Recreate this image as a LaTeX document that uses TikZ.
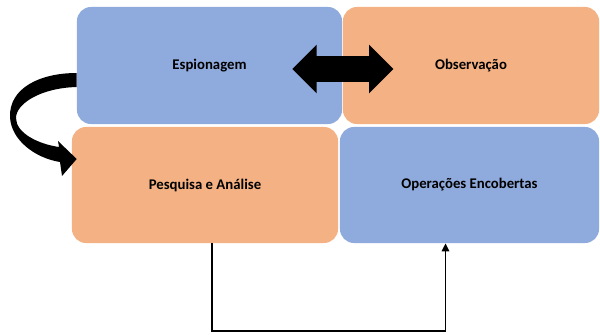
\documentclass[tikz,border=0pt]{standalone}
\usepackage{fontspec}
\setmainfont{Carlito}
\usetikzlibrary{arrows.meta,positioning,calc,shapes.arrows}
\definecolor{BoxBlue}{HTML}{8FAADC}
\definecolor{BoxOrange}{HTML}{F4B183}

\begin{document}
\begin{tikzpicture}[x=0.025cm,y=-0.025cm,
    box/.style={rectangle,rounded corners=3.5mm,inner sep=0pt,align=center,font=\fontsize{10.5}{12}\selectfont\bfseries},
    arrow/.style={-{Triangle[length=2mm,width=1.8mm]},line width=1.4pt,draw=black}
]
\useasboundingbox (0,0) rectangle (600,335);
% four blocks
\node[box,fill=BoxBlue,minimum width=6.625cm,minimum height=2.925cm] (espionagem) at (209.5,65.5) {Espionagem};
\node[box,fill=BoxOrange,minimum width=6.4cm,minimum height=2.925cm] (observacao) at (471,65.5) {Observação};
\node[box,fill=BoxOrange,minimum width=6.65cm,minimum height=2.9cm] (pesquisa) at (205,185) {Pesquisa e Análise};
\node[box,fill=BoxBlue,minimum width=6.475cm,minimum height=2.9cm] (operacoes) at (469.5,185) {Operações Encobertas};
% double arrow between the top blocks
\node[double arrow,fill=black,inner xsep=0pt,inner ysep=0.3125cm,minimum height=2.525cm,double arrow head extend=0.2875cm] (troca) at ($(espionagem.east)+(0.5,3.5)$) {};
% curved arrow on the left
\coordinate (cs) at ($(espionagem.west)+(0,7.5)$);
\coordinate (ce) at ($(pesquisa.west)+(5,-26)$);
\fill[black] (cs) .. controls (40,73) and (9,88) .. (10,117)
  .. controls (11,140) and (35,158) .. (60,162)
  -- (62,176) -- (ce) -- (58,141) -- (59,147)
  .. controls (38,144) and (16,133) .. (16,118)
  .. controls (16,104) and (40,88) .. ($(cs)+(0,14)$) -- cycle;
% connector below
\draw[arrow] ($(pesquisa.south)+(7,0)$) -- ++(0,88) -| ($(operacoes.south)+(-24,0)$);
\end{tikzpicture}
\end{document}
